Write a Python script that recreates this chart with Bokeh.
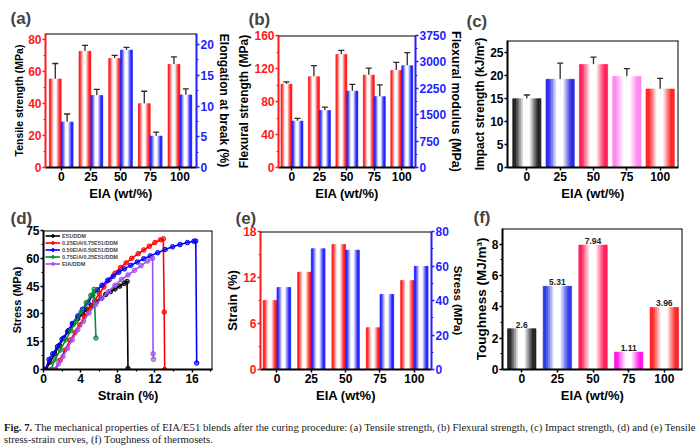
import numpy as np
from bokeh.plotting import figure
from bokeh.models import (Range1d, LinearAxis, FixedTicker, Whisker, TeeHead,
                          ColumnDataSource, Span, Div)
from bokeh.layouts import row, column
from bokeh.embed import file_html
from bokeh.resources import INLINE
from bokeh.core.properties import value

FONT = "Liberation Sans"

# ---------------- data ----------------
eia_labels = ["0", "25", "50", "75", "100"]

tensile_strength = [55.5, 72.8, 68.3, 40.0, 64.6]
tensile_err = [9.7, 3.7, 2.0, 7.8, 4.7]
elongation = [7.4, 11.7, 19.1, 5.1, 11.8]
elongation_err = [1.3, 1.0, 0.45, 0.65, 1.0]

flexural_strength = [101.0, 110.0, 137.0, 112.0, 117.5]
flexural_strength_err = [2.8, 13.4, 5.0, 8.5, 10.0]
flexural_modulus = [1320, 1616, 2170, 2012, 2891]
flexural_modulus_err = [75, 102, 194, 333, 370]

impact_strength = [14.9, 19.1, 22.3, 19.7, 17.0]
impact_err = [0.8, 3.5, 1.6, 1.7, 2.3]
impact_colors = ["#222222", "#2a2ae6", "#ff1f5a", "#ff86ef", "#ff2222"]

break_strain = [9.0, 12.7, 16.3, 5.45, 11.6]
break_stress = [47.5, 70.0, 69.2, 43.5, 59.8]

toughness = [2.6, 5.31, 7.94, 1.11, 3.96]
toughness_colors = ["#222222", "#2a3ae6", "#ff1f5a", "#ff14e6", "#ff2222"]

# tensile stress-strain curves
e51_strain = [0.3, 0.7, 1.2, 1.7, 2.2, 2.7, 3.2, 3.7, 4.2, 4.7, 5.2, 5.7, 6.2, 6.7,
              7.2, 7.7, 8.2, 8.7, 9.0, 9.1]
e51_stress = [0, 4, 8.5, 13, 17, 21, 24.5, 27.5, 30, 32.5, 34.5, 36.5, 38.5, 40.5,
              42, 43.5, 45, 46.5, 47.5, 0.5]
eia25_strain = [1.3, 1.8, 2.3, 2.9, 3.4, 3.9, 4.4, 4.9, 5.5, 6.0, 6.5, 7.1, 7.7, 8.3,
                8.9, 9.5, 10.2, 10.8, 11.4, 12.0, 12.6, 12.9, 13.0, 13.05]
eia25_stress = [0, 5, 10.5, 16, 20, 24, 28.5, 32.5, 37, 41, 44.5, 48.5, 52, 55,
                57.5, 60, 62.5, 64.5, 66.5, 68.5, 70, 70.5, 31, 0]
eia50_strain = [0.2, 0.6, 1.0, 1.5, 2.0, 2.6, 3.1, 3.7, 4.2, 4.8, 5.3, 5.8, 6.3, 6.9,
                7.5, 8.1, 8.7, 9.4, 10.1, 10.8, 11.5, 12.3, 13.1, 13.9, 14.7, 15.5,
                16.2, 16.4, 16.5]
eia50_stress = [0, 5.5, 8.5, 12.3, 16.4, 20.5, 24.8, 28.9, 32.5, 36, 40, 43, 45.5, 48,
                50.3, 52.5, 54.3, 56.2, 58, 59.8, 61.3, 63, 64.7, 66.2, 67.4, 68.5,
                69.2, 69.3, 3.5]
eia75_strain = [0.8, 1.25, 1.8, 2.4, 2.95, 3.5, 4.05, 4.6, 5.1, 5.45, 5.65]
eia75_stress = [0, 5.5, 10.5, 16, 21, 26, 31, 36, 40, 43.2, 17]
eia100_strain = [1.1, 1.6, 2.1, 2.6, 3.1, 3.7, 4.3, 4.9, 5.6, 6.3, 7.0, 7.7, 8.4, 9.1,
                 9.8, 10.5, 11.2, 11.75, 11.8, 11.85]
eia100_stress = [0, 3, 7, 11.5, 16, 21.5, 26, 30.5, 35, 38.5, 42, 45.5, 48.5, 51,
                 53.5, 56, 58.5, 60, 8.5, 5.5]

curve_names = ["E51/DDM", "0.25EIA/0.75E51/DDM", "0.50EIA/0.50E51/DDM",
               "0.75EIA/0.25E51/DDM", "EIA/DDM"]
curve_colors = ["#000000", "#ff0000", "#0000ff", "#0a8a3a", "#a050f0"]

RED = "#ff1a1a"
BLUE = "#1f1fff"
xs = np.arange(len(eia_labels))


# ---------------- helpers ----------------
def mix(hexcol, f):
    h = hexcol.lstrip("#")
    rgb = [int(h[i:i + 2], 16) for i in (0, 2, 4)]
    return "#%02x%02x%02x" % tuple(int(round(255 + (c - 255) * f)) for c in rgb)


def gradient_bars(p, centers, heights, width, colors, y_range_name="default", n=16):
    """Bars shaded from a saturated edge to a white centre, drawn as thin strips."""
    L, R, T, C = [], [], [], []
    step = width / n
    for c, h, col in zip(centers, heights, colors):
        for k in range(n):
            l = c - width / 2 + k * step
            d = abs(l + step / 2 - c) / (width / 2)
            f = min(1.0, max(0.0, (d - 0.22) / 0.58)) ** 0.9
            L.append(l); R.append(l + step); T.append(h); C.append(mix(col, f))
    src = ColumnDataSource(dict(left=L, right=R, top=T, bottom=[0] * len(L), color=C))
    p.quad(left="left", right="right", top="top", bottom="bottom", fill_color="color",
           line_color="color", line_width=0.6, source=src, y_range_name=y_range_name)


def error_bars(p, centers, vals, errs, y_range_name="default"):
    src = ColumnDataSource(dict(x=list(centers),
                                lo=[v - e for v, e in zip(vals, errs)],
                                up=[v + e for v, e in zip(vals, errs)]))
    col = "#2a2a2a"
    p.add_layout(Whisker(source=src, base="x", lower="lo", upper="up",
                         line_color=col, line_width=1.3, y_range_name=y_range_name,
                         upper_head=TeeHead(size=6, line_color=col, line_width=1.3),
                         lower_head=TeeHead(size=6, line_color=col, line_width=1.3)))


def style_axis(ax, color, label, label_size, ticks, minor=None, overrides=None,
               label_gap=0):
    ax.axis_label = label
    ax.ticker = FixedTicker(ticks=ticks, minor_ticks=minor or [])
    if overrides:
        ax.major_label_overrides = overrides
    ax.axis_line_color = color
    ax.axis_line_width = 2
    ax.major_tick_line_color = color
    ax.major_tick_line_width = 1.5
    ax.major_tick_out = 3
    ax.major_tick_in = 0
    ax.minor_tick_line_color = color
    ax.minor_tick_line_width = 1.2
    ax.minor_tick_out = 2
    ax.minor_tick_in = 0
    ax.major_label_text_color = color
    ax.major_label_text_font = FONT
    ax.major_label_text_font_size = "12px"
    ax.major_label_text_font_style = "bold"
    ax.major_label_standoff = 1
    ax.axis_label_text_font = FONT
    ax.axis_label_text_font_size = label_size
    ax.axis_label_text_font_style = "bold"
    ax.axis_label_text_color = "black"
    ax.axis_label_standoff = label_gap


def make_fig(w, h, xr, yr, borders, tag, tag_dx):
    left, right, top, bottom = borders
    p = figure(width=w, height=h, x_range=Range1d(*xr), y_range=Range1d(*yr),
               output_backend="svg", toolbar_location=None,
               min_border_left=left, min_border_right=right,
               min_border_top=top, min_border_bottom=bottom)
    p.xgrid.visible = False
    p.ygrid.visible = False
    p.outline_line_color = None
    p.background_fill_color = "white"
    p.border_fill_color = "white"
    # panel tag as the title, pushed left of the frame and down towards it
    p.title.text = tag
    p.title.text_font = FONT
    p.title.text_font_size = "17px"
    p.title.text_font_style = "bold"
    p.title.align = "left"
    p.title.vertical_align = "bottom"
    p.title.offset = tag_dx
    p.title.standoff = max(0, top - 21)
    return p


def frame_edges(p, top=True, right=False):
    if top:
        p.add_layout(Span(location=p.y_range.end, dimension="width",
                          line_color="black", line_width=2))
    if right:
        p.add_layout(Span(location=p.x_range.end, dimension="height",
                          line_color="black", line_width=2))


cat_overrides = {int(i): s for i, s in zip(xs, eia_labels)}

# ---------------- (a) tensile strength / elongation ----------------
pa = make_fig(234, 203, (-0.53, 4.56), (0, 84), (45, 38, 33, 32), "(a)", -35)
pa.extra_y_ranges = {"elong": Range1d(0, 21.8)}
gradient_bars(pa, xs - 0.2, tensile_strength, 0.4, [RED] * 5)
gradient_bars(pa, xs + 0.2, elongation, 0.4, [BLUE] * 5, "elong")
error_bars(pa, xs - 0.2, tensile_strength, tensile_err)
error_bars(pa, xs + 0.2, elongation, elongation_err, "elong")
style_axis(pa.yaxis[0], RED, "Tensile strength (MPa)", "10.5px",
           [0, 20, 40, 60, 80], [10, 30, 50, 70])
style_axis(pa.xaxis[0], "black", "EIA (wt/%)", "13px", list(xs), None, cat_overrides, 2)
ax = LinearAxis(y_range_name="elong")
style_axis(ax, BLUE, "Elongation at break (%)", "12px", [0, 5, 10, 15, 20],
           [2.5, 7.5, 12.5, 17.5])
pa.add_layout(ax, "right")
frame_edges(pa)

# ---------------- (b) flexural strength / modulus ----------------
pb = make_fig(232, 203, (-0.49, 4.5), (0, 160), (39, 49, 35, 32), "(b)", -30)
pb.extra_y_ranges = {"mod": Range1d(0, 3750)}
gradient_bars(pb, xs - 0.2, flexural_strength, 0.4, [RED] * 5)
gradient_bars(pb, xs + 0.2, flexural_modulus, 0.4, [BLUE] * 5, "mod")
error_bars(pb, xs - 0.2, flexural_strength, flexural_strength_err)
error_bars(pb, xs + 0.2, flexural_modulus, flexural_modulus_err, "mod")
style_axis(pb.yaxis[0], RED, "Flexural strength (MPa)", "12px",
           [0, 40, 80, 120, 160], [20, 60, 100, 140])
style_axis(pb.xaxis[0], "black", "EIA (wt/%)", "13px", list(xs), None, cat_overrides, 2)
ax = LinearAxis(y_range_name="mod")
style_axis(ax, BLUE, "Flexural modulus (MPa)", "12.5px",
           [0, 750, 1500, 2250, 3000, 3750], [375, 1125, 1875, 2625, 3375])
pb.add_layout(ax, "right")
frame_edges(pb)

# ---------------- (c) impact strength ----------------
pc = make_fig(234, 203, (-0.58, 4.55), (0, 27.5), (41, 22, 40, 34), "(c)", -41)
gradient_bars(pc, xs, impact_strength, 0.85, impact_colors)
error_bars(pc, xs, impact_strength, impact_err)
style_axis(pc.yaxis[0], "black", "Impact strength (kJ/m\u00b2)", "12px",
           [0, 5, 10, 15, 20, 25])
style_axis(pc.xaxis[0], "black", "EIA (wt/%)", "13px", list(xs), None, cat_overrides, 2)
frame_edges(pc, top=True, right=True)

# ---------------- (d) stress-strain curves ----------------
pd_ = make_fig(222, 202, (0, 18.2), (0, 75), (43, 10, 27, 35), "(d)", -33)
curves = [(e51_strain, e51_stress), (eia25_strain, eia25_stress),
          (eia50_strain, eia50_stress), (eia75_strain, eia75_stress),
          (eia100_strain, eia100_stress)]
for (sx, sy), col, name in zip(curves, curve_colors, curve_names):
    pd_.line(sx, sy, line_color=col, line_width=1.6, legend_label=name)
    pd_.scatter(sx, sy, size=4.5, fill_color=col, fill_alpha=0.55, line_color=col,
                line_width=1, legend_label=name)
style_axis(pd_.yaxis[0], "black", "Stress (MPa)", "11px",
           [0, 15, 30, 45, 60, 75], [7.5, 22.5, 37.5, 52.5, 67.5])
style_axis(pd_.xaxis[0], "black", "Strain (%)", "13px",
           [0, 4, 8, 12, 16], [2, 6, 10, 14, 18], None, 2)
lg = pd_.legend[0]
lg.location = "top_left"
lg.label_text_font = FONT
lg.label_text_font_size = "5.5px"
lg.label_text_font_style = "bold"
lg.label_height = 7
lg.glyph_height = 7
lg.glyph_width = 15
lg.label_standoff = 2
lg.spacing = 0
lg.padding = 1
lg.margin = 2
lg.border_line_color = None
lg.background_fill_alpha = 0
frame_edges(pd_, top=True, right=True)

# ---------------- (e) strain / stress at break ----------------
pe = make_fig(248, 202, (-0.48, 4.5), (0, 18), (36, 39, 28, 33), "(e)", -25)
pe.extra_y_ranges = {"stress": Range1d(0, 80)}
gradient_bars(pe, xs - 0.2, break_strain, 0.4, [RED] * 5)
gradient_bars(pe, xs + 0.2, break_stress, 0.4, [BLUE] * 5, "stress")
style_axis(pe.yaxis[0], RED, "Strain (%)", "13px", [0, 6, 12, 18], [3, 9, 15])
style_axis(pe.xaxis[0], "black", "EIA (wt%)", "13px", list(xs), None, cat_overrides, 2)
ax = LinearAxis(y_range_name="stress")
style_axis(ax, BLUE, "Stress (MPa)", "11.5px", [0, 20, 40, 60, 80], [10, 30, 50, 70])
pe.add_layout(ax, "right")
frame_edges(pe)

# ---------------- (f) toughness ----------------
pf = make_fig(230, 202, (-0.54, 4.51), (0, 9), (30, 18, 25, 29), "(f)", -29)
gradient_bars(pf, xs, toughness, 0.8, toughness_colors)
pf.text(x=list(xs), y=toughness, text=[f"{v:g}" for v in toughness],
        text_align="center", text_baseline="bottom", y_offset=-1,
        text_font=value(FONT), text_font_size="8.5px", text_font_style="bold",
        text_color="#222222")
style_axis(pf.yaxis[0], "black", "Toughness (MJ/m\u00b3)", "13.5px",
           [0, 2, 4, 6, 8], [1, 3, 5, 7])
style_axis(pf.xaxis[0], "black", "EIA (wt/%)", "13px", list(xs), None, cat_overrides, 2)
frame_edges(pf, top=True, right=True)

# ---------------- caption ----------------
caption = Div(
    text=('<div style="padding:16px 0 0 4px; font-family:\'Liberation Serif\',serif; '
          'font-size:10.7px; line-height:12px; white-space:nowrap; color:#1a1a1a;">'
          '<b>Fig. 7.</b> The mechanical properties of EIA/E51 blends after the curing '
          'procedure: (a) Tensile strength, (b) Flexural strength, (c) Impact strength, '
          '(d) and (e) Tensile<br>stress-strain curves, (f) Toughness of thermosets.</div>'),
    width=700, height=42, margin=0)

# each panel sits in its own column so its frame keeps its own borders
top_row = row(column(pa), column(pb), column(pc))
bottom_row = row(column(pd_), column(pe), column(pf))
layout = column(top_row, bottom_row, caption)

with open("out.html", "w") as fh:
    fh.write(file_html(layout, INLINE))
